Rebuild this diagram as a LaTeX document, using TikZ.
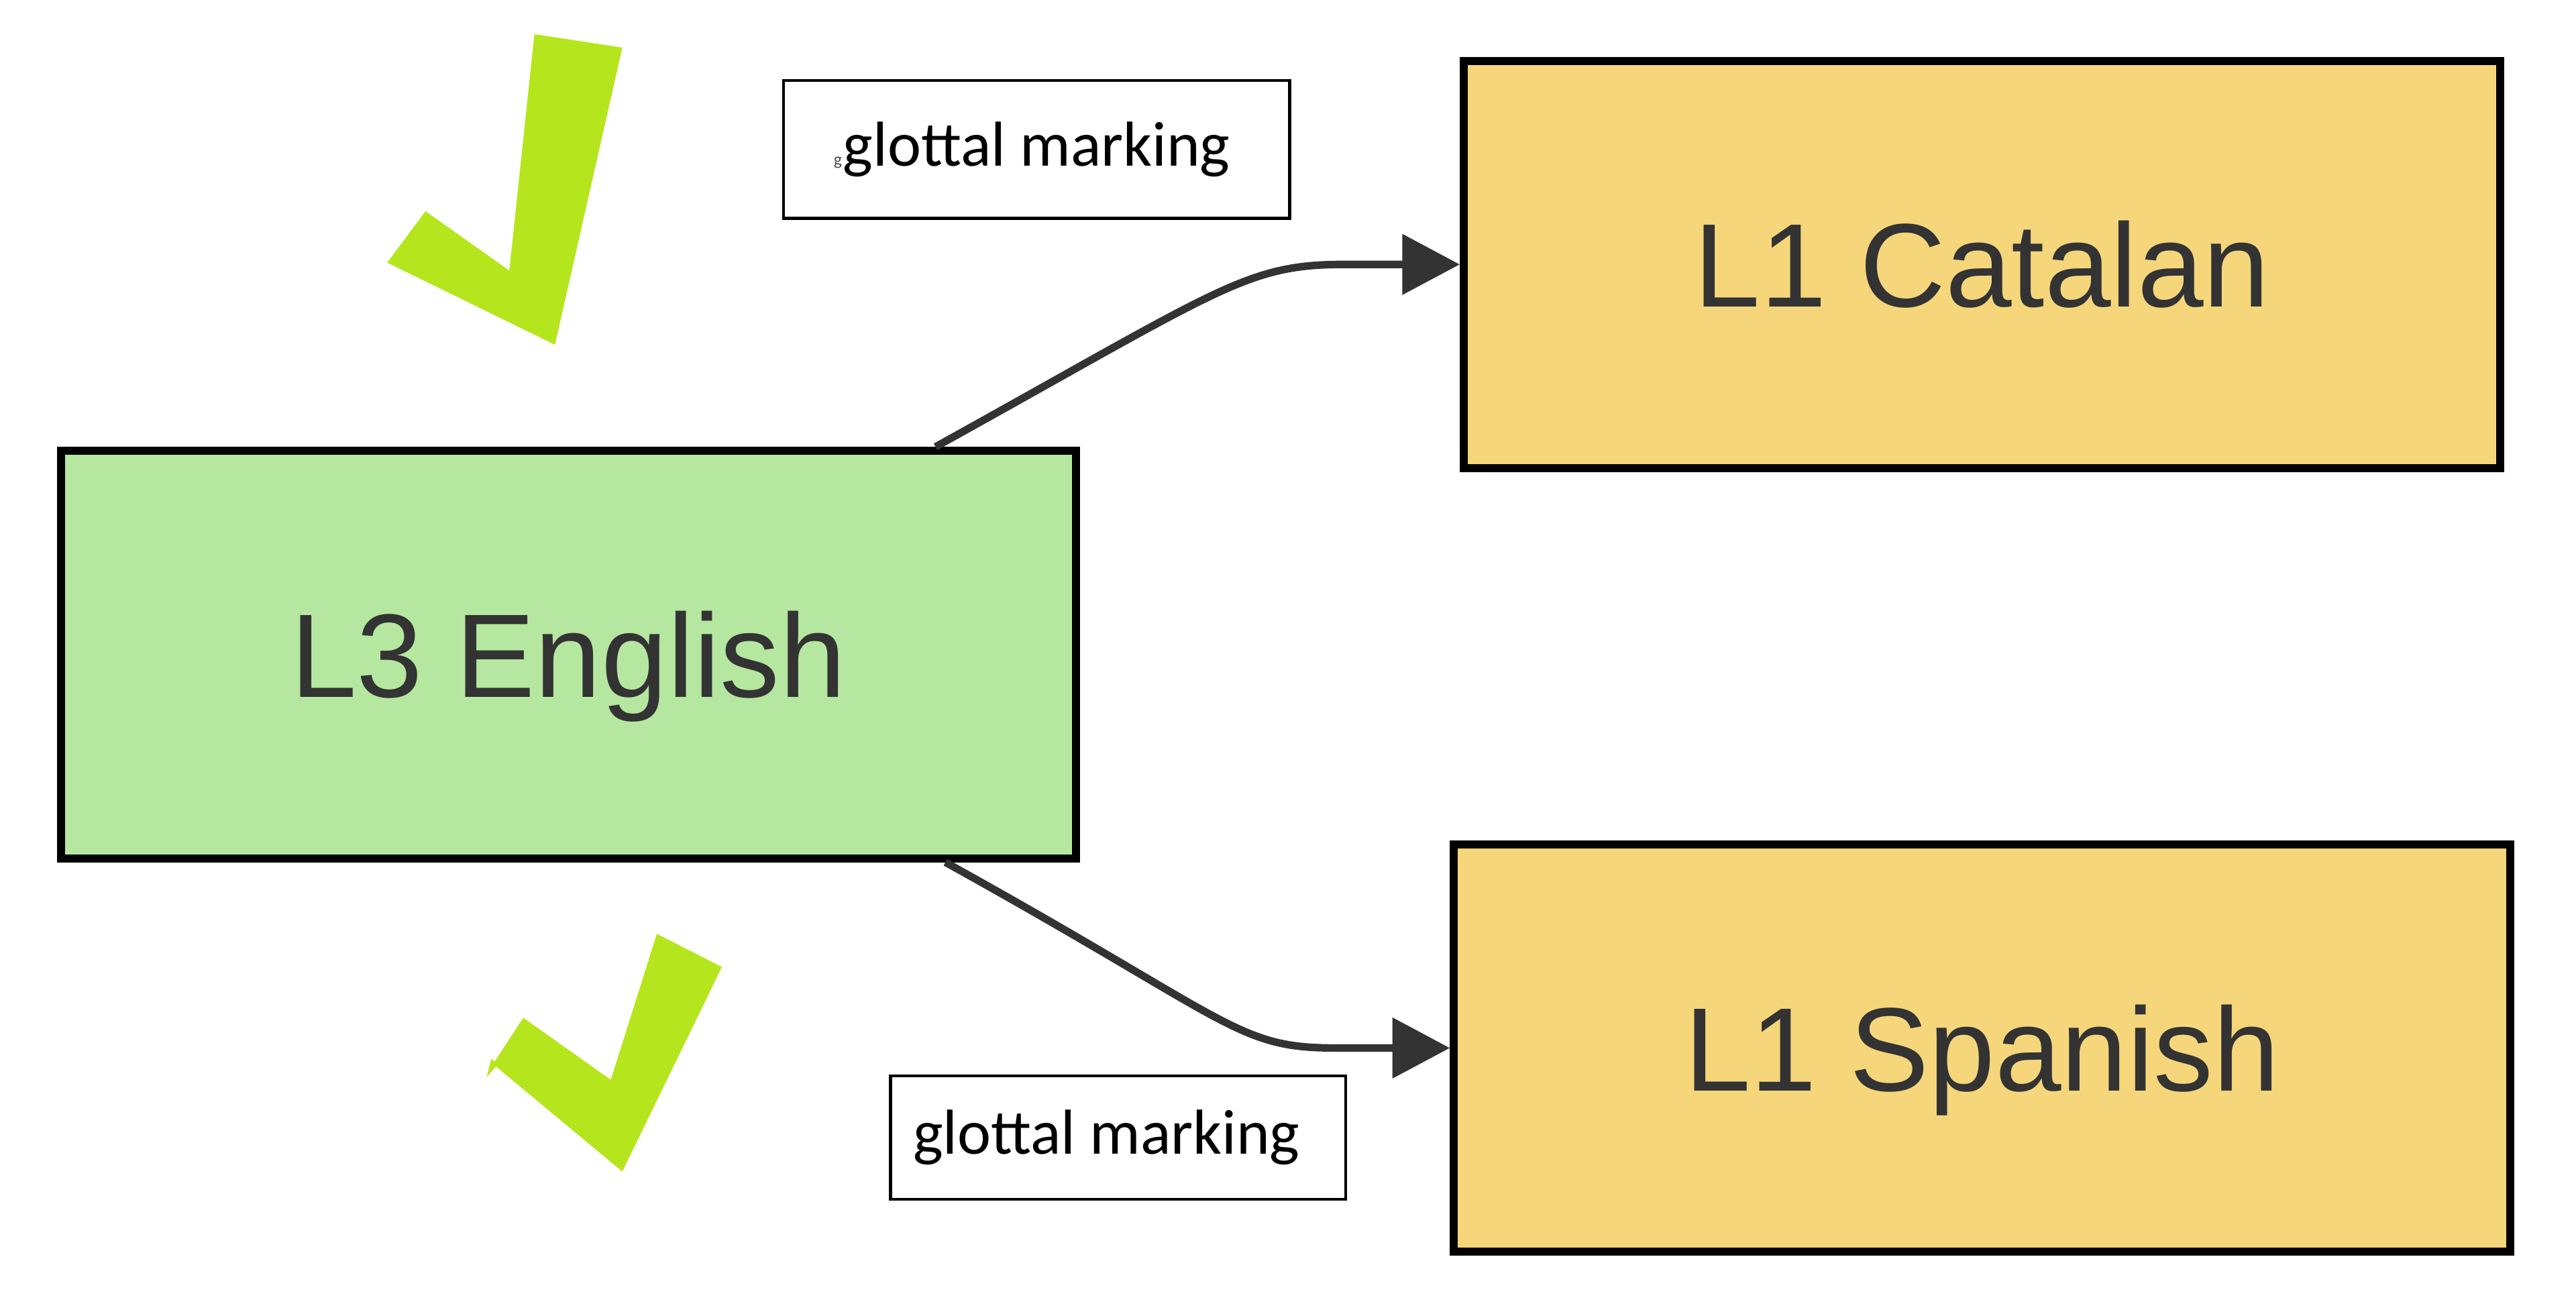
\documentclass[tikz,border=0pt]{standalone}
\usepackage{fontspec}
\setmainfont{Liberation Sans}
\newfontfamily\labelfont{Carlito}
\usetikzlibrary{arrows.meta}
\definecolor{langgreen}{HTML}{B5E7A0}
\definecolor{langgold}{HTML}{F6D67B}
\definecolor{tickgreen}{HTML}{B5E61D}
\definecolor{linkgray}{HTML}{333333}

\begin{document}
\begin{tikzpicture}[
    lang/.style = {draw, line width=1.4pt, text=linkgray, font=\fontsize{20.6}{24}\selectfont,
        minimum height=2.48cm, inner sep=0pt, text height=0.52cm, text depth=0pt},
    tag/.style = {draw, fill=white, line width=0.5pt, font=\labelfont\fontsize{11}{13}\selectfont, inner sep=0pt},
    link/.style = {draw=linkgray, line width=1.3pt, -{Triangle[length=3.5mm, width=3.6mm]}},
    tick/.style = {fill=tickgreen}
]
    \useasboundingbox (0, 0) rectangle (15.68, 8.01);

    % languages
    \node [lang, fill=langgreen, minimum width=6.18cm] (english) at (3.46, 4.025) {L3 English};
    \node [lang, fill=langgold, minimum width=6.31cm] (catalan) at (12.065, 6.40) {L1 Catalan};
    \node [lang, fill=langgold, minimum width=6.43cm] (spanish) at (12.065, 1.63) {L1 Spanish};

    % transfer
    \draw [link] ([xshift=-8.8mm]english.north east) .. controls +(29:2.0) and +(180:0.6) .. ([xshift=-7mm]catalan.west) -- (catalan.west);
    \draw [link] ([xshift=-8.2mm]english.south east) .. controls +(-29:2.0) and +(180:0.6) .. ([xshift=-7mm]spanish.west) -- (spanish.west);

    \node [tag, minimum width=3.08cm, minimum height=0.84cm] (topmark) at (6.31, 7.10) {glottal marking};
    \node [tag, minimum width=2.77cm, minimum height=0.75cm] (lowmark) at (6.805, 1.085) {glottal marking\kern1.4mm};
    \node [font=\labelfont\fontsize{3}{3}\selectfont, text=black!70, inner sep=0pt] (stray) at (5.10, 7.02) {g};

    % ticks
    \fill [tick] (3.253, 7.802) -- (3.788, 7.72) -- (3.378, 5.911) -- (2.357, 6.411) -- (2.59, 6.724) -- (3.10, 6.363) -- cycle;
    \fill [tick] (3.998, 2.325) -- (4.394, 2.123) -- (3.788, 0.878) -- (3.019, 1.517) -- (2.963, 1.454) -- (2.990, 1.564)
        -- (3.011, 1.547) -- (3.185, 1.814) -- (3.718, 1.436) -- cycle;
\end{tikzpicture}
\end{document}
